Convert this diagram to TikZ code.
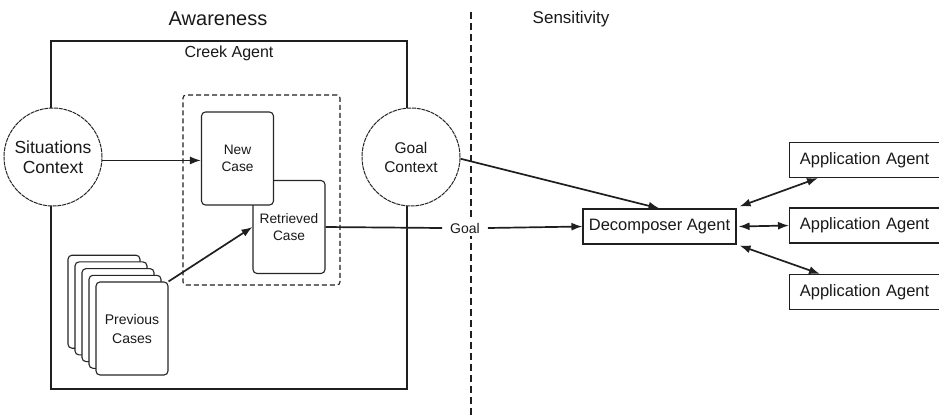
\documentclass[tikz,border=0pt]{standalone}
\usepackage{fontspec}
\setmainfont{Liberation Sans}
\usetikzlibrary{arrows.meta}
\begin{document}
\begin{tikzpicture}[x=1pt,y=-1pt,
  every node/.style={text=black!90, inner sep=0pt},
  conn/.style={line width=1.7pt, draw=black!88},
  tip/.style={-{Latex[length=11pt,width=8pt]}},
  dtip/.style={{Latex[length=11pt,width=8pt]}-{Latex[length=11pt,width=8pt]}},
  card/.style={draw=black!85, line width=1.1pt, rounded corners=4pt, fill=white,
    minimum width=72pt, minimum height=93pt, align=center,
    font=\fontsize{13.7}{17}\selectfont},
  ctx/.style={circle, draw=black!85, line width=1pt, dash pattern=on 4pt off 0.8pt,
    fill=white, minimum size=98pt, align=center},
  agent/.style={draw=black!88, line width=1.1pt, fill=white, minimum height=35pt,
    font=\fontsize{16.5}{19}\selectfont},
  title/.style={font=\fontsize{20}{24}\selectfont},
]
\useasboundingbox (0,0) rectangle (939,418);
\fill[white] (0,0) rectangle (939,418);

% headings
\node[title] (aw) at (218,19) {Awareness};
\node[title, font=\fontsize{17}{20}\selectfont] (sen) at (571,19) {Sensitivity};

% divider between the two halves
\coordinate (divtop) at (471,12);
\coordinate (divbot) at (471,420);
\draw[line width=1.3pt, black!88, dash pattern=on 7pt off 4pt] (divtop) -- (divbot);

% the Creek agent frame
\draw[line width=1.1pt, black!88] (51,41) rectangle (407,389);
\node[font=\fontsize{16}{19}\selectfont] (creek) at (229,53) {Creek Agent};

\node[ctx, font=\fontsize{17.5}{20}\selectfont] (sc) at (53,157) {Situations\\Context};
\node[ctx, font=\fontsize{15.5}{19}\selectfont] (gc) at (411,157) {Goal\\Context};

% case reasoning group
\node[draw=black!88, line width=1.1pt, dash pattern=on 5pt off 3pt, rounded corners=3pt,
  minimum width=157pt, minimum height=190pt] (grp) at (261.5,190) {};
\node[card] (rc) at (289,227) {Retrieved\\Case};
\node[card] (nc) at (237.5,158.5) {New\\Case};

% stack of previous cases
\foreach \k in {4,3,2,1} {
  \node[card] (p\k) at (132-7*\k,328.5-6.7*\k) {};
}
\node[card, font=\fontsize{14}{19}\selectfont] (p0) at (132,328.5) {Previous\\Cases};

% agents
\node[agent, minimum width=153pt] (dec) at (659.5,226.5) {Decomposer Agent};
\node[agent, minimum width=153pt, anchor=west, text width=153pt, align=center] (a1) at (789,160) {\hspace*{-3pt}Application Agent};
\node[agent, minimum width=153pt, anchor=west, text width=153pt, align=center] (a2) at (789,225.5) {\hspace*{-3pt}Application Agent};
\node[agent, minimum width=153pt, anchor=west, text width=153pt, align=center] (a3) at (789,292) {\hspace*{-3pt}Application Agent};

% goal label on the divider
\node[fill=white, inner xsep=8pt, inner ysep=3pt, font=\fontsize{14}{16}\selectfont] (goal) at (465,228) {Goal};

% connectors
\draw[conn, tip] (sc.-4) -- (sc.-4 -| nc.west);
\draw[conn, tip] (p0.north east) -- (rc.west);
\draw[conn] (rc.east) -- (goal.west);
\draw[conn, tip] (goal.east) -- (dec.west);
\draw[conn, tip] (gc.-2) -- (dec.north);
\draw[conn, dtip] ([shift={(3pt,2pt)}]dec.north east) -- ([xshift=29pt]a1.south west);
\draw[conn, dtip] ([xshift=2pt]dec.east) -- (a2.west);
\draw[conn, dtip] ([shift={(3pt,-1pt)}]dec.south east) -- ([xshift=31pt]a3.north west);
\end{tikzpicture}
\end{document}
